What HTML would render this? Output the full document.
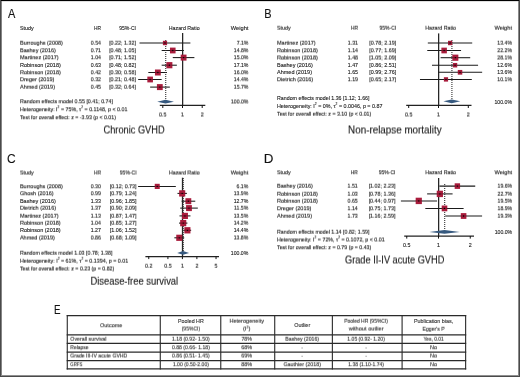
<!DOCTYPE html>
<html><head><meta charset="utf-8"><style>
html,body{margin:0;padding:0;background:#fff;}
body{width:520px;height:377px;overflow:hidden;position:relative;}
svg{position:absolute;left:0;top:0;}
svg text{font-family:"Liberation Sans",sans-serif;white-space:pre;}
#t{filter:grayscale(1) blur(0.25px);}
#g{filter:blur(0.25px);}
</style></head><body>
<svg id="g" width="520" height="377" viewBox="0 0 520 377">
<rect x="0" y="0" width="520" height="377" fill="#fff"/>
<line x1="182.62" y1="33.00" x2="182.62" y2="105.40" stroke="#262626" stroke-width="1.3" />
<line x1="139.50" y1="43.00" x2="190.38" y2="43.00" stroke="#1a1a1a" stroke-width="1.05" />
<line x1="161.66" y1="50.50" x2="183.89" y2="50.50" stroke="#1a1a1a" stroke-width="1.05" />
<line x1="172.77" y1="57.60" x2="194.39" y2="57.60" stroke="#1a1a1a" stroke-width="1.05" />
<line x1="161.66" y1="65.20" x2="176.86" y2="65.20" stroke="#1a1a1a" stroke-width="1.05" />
<line x1="148.31" y1="72.50" x2="167.03" y2="72.50" stroke="#1a1a1a" stroke-width="1.05" />
<line x1="138.18" y1="79.50" x2="161.66" y2="79.50" stroke="#1a1a1a" stroke-width="1.05" />
<line x1="150.14" y1="87.10" x2="169.83" y2="87.10" stroke="#1a1a1a" stroke-width="1.05" />
<line x1="165.72" y1="40.00" x2="165.72" y2="100.10" stroke="#333" stroke-width="1.1" stroke-dasharray="1 1"/>
<rect x="162.90" y="40.80" width="4.20" height="4.40" fill="#a91c3c"/>
<line x1="162.90" y1="43.00" x2="167.10" y2="43.00" stroke="#000" stroke-width="1.0" stroke-opacity="0.3"/>
<circle cx="165.00" cy="43.00" r="0.65" fill="#000"/>
<rect x="169.97" y="47.60" width="5.60" height="5.80" fill="#a91c3c"/>
<line x1="169.97" y1="50.50" x2="175.57" y2="50.50" stroke="#000" stroke-width="1.0" stroke-opacity="0.3"/>
<circle cx="172.77" cy="50.50" r="0.65" fill="#000"/>
<rect x="180.71" y="54.60" width="5.80" height="6.00" fill="#a91c3c"/>
<line x1="180.71" y1="57.60" x2="186.51" y2="57.60" stroke="#000" stroke-width="1.0" stroke-opacity="0.3"/>
<circle cx="183.61" cy="57.60" r="0.65" fill="#000"/>
<rect x="166.38" y="62.10" width="6.00" height="6.20" fill="#a91c3c"/>
<line x1="166.38" y1="65.20" x2="172.38" y2="65.20" stroke="#000" stroke-width="1.0" stroke-opacity="0.3"/>
<circle cx="169.38" cy="65.20" r="0.65" fill="#000"/>
<rect x="154.96" y="69.50" width="5.80" height="6.00" fill="#a91c3c"/>
<line x1="154.96" y1="72.50" x2="160.76" y2="72.50" stroke="#000" stroke-width="1.0" stroke-opacity="0.3"/>
<circle cx="157.86" cy="72.50" r="0.65" fill="#000"/>
<rect x="147.34" y="76.60" width="5.60" height="5.80" fill="#a91c3c"/>
<line x1="147.34" y1="79.50" x2="152.94" y2="79.50" stroke="#000" stroke-width="1.0" stroke-opacity="0.3"/>
<circle cx="150.14" cy="79.50" r="0.65" fill="#000"/>
<rect x="156.92" y="84.10" width="5.80" height="6.00" fill="#a91c3c"/>
<line x1="156.92" y1="87.10" x2="162.72" y2="87.10" stroke="#000" stroke-width="1.0" stroke-opacity="0.3"/>
<circle cx="159.82" cy="87.10" r="0.65" fill="#000"/>
<polygon points="157.18,101.70 165.52,99.80 173.95,101.70 165.52,103.60" fill="#36597f"/>
<line x1="159.80" y1="105.40" x2="205.30" y2="105.40" stroke="#222" stroke-width="1.25" />
<line x1="162.81" y1="105.40" x2="162.81" y2="108.00" stroke="#111" stroke-width="1.0" />
<line x1="182.50" y1="105.40" x2="182.50" y2="108.00" stroke="#111" stroke-width="1.0" />
<line x1="202.19" y1="105.40" x2="202.19" y2="108.00" stroke="#111" stroke-width="1.0" />
<line x1="438.62" y1="33.40" x2="438.62" y2="105.40" stroke="#262626" stroke-width="1.3" />
<line x1="427.82" y1="43.00" x2="472.21" y2="43.00" stroke="#1a1a1a" stroke-width="1.05" />
<line x1="427.26" y1="50.50" x2="461.06" y2="50.50" stroke="#1a1a1a" stroke-width="1.05" />
<line x1="440.60" y1="57.70" x2="470.20" y2="57.70" stroke="#1a1a1a" stroke-width="1.05" />
<line x1="432.01" y1="65.20" x2="478.07" y2="65.20" stroke="#1a1a1a" stroke-width="1.05" />
<line x1="438.07" y1="72.30" x2="482.15" y2="72.30" stroke="#1a1a1a" stroke-width="1.05" />
<line x1="419.98" y1="79.40" x2="471.81" y2="79.40" stroke="#1a1a1a" stroke-width="1.05" />
<line x1="451.92" y1="40.00" x2="451.92" y2="99.70" stroke="#333" stroke-width="1.1" stroke-dasharray="1 1"/>
<rect x="448.01" y="40.80" width="4.20" height="4.40" fill="#a91c3c"/>
<line x1="448.01" y1="43.00" x2="452.21" y2="43.00" stroke="#000" stroke-width="1.0" stroke-opacity="0.3"/>
<circle cx="450.11" cy="43.00" r="0.65" fill="#000"/>
<rect x="441.38" y="47.65" width="5.50" height="5.70" fill="#a91c3c"/>
<line x1="441.38" y1="50.50" x2="446.88" y2="50.50" stroke="#000" stroke-width="1.0" stroke-opacity="0.3"/>
<circle cx="444.13" cy="50.50" r="0.65" fill="#000"/>
<rect x="452.36" y="54.60" width="6.00" height="6.20" fill="#a91c3c"/>
<line x1="452.36" y1="57.70" x2="458.36" y2="57.70" stroke="#000" stroke-width="1.0" stroke-opacity="0.3"/>
<circle cx="455.36" cy="57.70" r="0.65" fill="#000"/>
<rect x="452.92" y="62.95" width="4.30" height="4.50" fill="#a91c3c"/>
<line x1="452.92" y1="65.20" x2="457.22" y2="65.20" stroke="#000" stroke-width="1.0" stroke-opacity="0.3"/>
<circle cx="455.07" cy="65.20" r="0.65" fill="#000"/>
<rect x="457.78" y="69.95" width="4.50" height="4.70" fill="#a91c3c"/>
<line x1="457.78" y1="72.30" x2="462.28" y2="72.30" stroke="#000" stroke-width="1.0" stroke-opacity="0.3"/>
<circle cx="460.03" cy="72.30" r="0.65" fill="#000"/>
<rect x="443.88" y="77.20" width="4.20" height="4.40" fill="#a91c3c"/>
<line x1="443.88" y1="79.40" x2="448.08" y2="79.40" stroke="#000" stroke-width="1.0" stroke-opacity="0.3"/>
<circle cx="445.98" cy="79.40" r="0.65" fill="#000"/>
<polygon points="443.37,101.30 451.72,99.40 460.29,101.30 451.72,103.20" fill="#36597f"/>
<line x1="406.20" y1="105.40" x2="471.50" y2="105.40" stroke="#222" stroke-width="1.25" />
<line x1="408.69" y1="105.40" x2="408.69" y2="108.00" stroke="#111" stroke-width="1.0" />
<line x1="438.50" y1="105.40" x2="438.50" y2="108.00" stroke="#111" stroke-width="1.0" />
<line x1="468.31" y1="105.40" x2="468.31" y2="108.00" stroke="#111" stroke-width="1.0" />
<line x1="182.52" y1="177.70" x2="182.52" y2="256.50" stroke="#262626" stroke-width="1.3" />
<line x1="138.09" y1="186.40" x2="175.82" y2="186.40" stroke="#1a1a1a" stroke-width="1.05" />
<line x1="177.47" y1="193.40" x2="186.90" y2="193.40" stroke="#1a1a1a" stroke-width="1.05" />
<line x1="181.55" y1="201.20" x2="195.26" y2="201.20" stroke="#1a1a1a" stroke-width="1.05" />
<line x1="180.20" y1="208.10" x2="197.81" y2="208.10" stroke="#1a1a1a" stroke-width="1.05" />
<line x1="179.49" y1="215.90" x2="190.45" y2="215.90" stroke="#1a1a1a" stroke-width="1.05" />
<line x1="179.00" y1="223.10" x2="187.40" y2="223.10" stroke="#1a1a1a" stroke-width="1.05" />
<line x1="183.62" y1="230.30" x2="191.15" y2="230.30" stroke="#1a1a1a" stroke-width="1.05" />
<line x1="174.34" y1="237.80" x2="184.20" y2="237.80" stroke="#1a1a1a" stroke-width="1.05" />
<line x1="183.22" y1="178.00" x2="183.22" y2="251.30" stroke="#333" stroke-width="1.1" stroke-dasharray="1 1"/>
<rect x="154.74" y="183.80" width="5.00" height="5.20" fill="#a91c3c"/>
<line x1="154.74" y1="186.40" x2="159.74" y2="186.40" stroke="#000" stroke-width="1.0" stroke-opacity="0.3"/>
<circle cx="157.24" cy="186.40" r="0.65" fill="#000"/>
<rect x="179.14" y="190.25" width="6.10" height="6.30" fill="#a91c3c"/>
<line x1="179.14" y1="193.40" x2="185.24" y2="193.40" stroke="#000" stroke-width="1.0" stroke-opacity="0.3"/>
<circle cx="182.19" cy="193.40" r="0.65" fill="#000"/>
<rect x="185.46" y="198.20" width="5.80" height="6.00" fill="#a91c3c"/>
<line x1="185.46" y1="201.20" x2="191.26" y2="201.20" stroke="#000" stroke-width="1.0" stroke-opacity="0.3"/>
<circle cx="188.36" cy="201.20" r="0.65" fill="#000"/>
<rect x="186.08" y="205.10" width="5.80" height="6.00" fill="#a91c3c"/>
<line x1="186.08" y1="208.10" x2="191.88" y2="208.10" stroke="#000" stroke-width="1.0" stroke-opacity="0.3"/>
<circle cx="188.98" cy="208.10" r="0.65" fill="#000"/>
<rect x="181.95" y="212.80" width="6.00" height="6.20" fill="#a91c3c"/>
<line x1="181.95" y1="215.90" x2="187.95" y2="215.90" stroke="#000" stroke-width="1.0" stroke-opacity="0.3"/>
<circle cx="184.95" cy="215.90" r="0.65" fill="#000"/>
<rect x="180.17" y="219.95" width="6.10" height="6.30" fill="#a91c3c"/>
<line x1="180.17" y1="223.10" x2="186.27" y2="223.10" stroke="#000" stroke-width="1.0" stroke-opacity="0.3"/>
<circle cx="183.22" cy="223.10" r="0.65" fill="#000"/>
<rect x="184.35" y="227.15" width="6.10" height="6.30" fill="#a91c3c"/>
<line x1="184.35" y1="230.30" x2="190.45" y2="230.30" stroke="#000" stroke-width="1.0" stroke-opacity="0.3"/>
<circle cx="187.40" cy="230.30" r="0.65" fill="#000"/>
<rect x="176.25" y="234.70" width="6.00" height="6.20" fill="#a91c3c"/>
<line x1="176.25" y1="237.80" x2="182.25" y2="237.80" stroke="#000" stroke-width="1.0" stroke-opacity="0.3"/>
<circle cx="179.25" cy="237.80" r="0.65" fill="#000"/>
<polygon points="177.21,252.90 183.02,251.00 189.13,252.90 183.02,254.80" fill="#36597f"/>
<line x1="145.40" y1="256.50" x2="219.00" y2="256.50" stroke="#222" stroke-width="1.25" />
<line x1="148.76" y1="256.50" x2="148.76" y2="259.10" stroke="#111" stroke-width="1.0" />
<line x1="167.91" y1="256.50" x2="167.91" y2="259.10" stroke="#111" stroke-width="1.0" />
<line x1="182.40" y1="256.50" x2="182.40" y2="259.10" stroke="#111" stroke-width="1.0" />
<line x1="196.89" y1="256.50" x2="196.89" y2="259.10" stroke="#111" stroke-width="1.0" />
<line x1="216.04" y1="256.50" x2="216.04" y2="259.10" stroke="#111" stroke-width="1.0" />
<line x1="438.62" y1="178.00" x2="438.62" y2="236.00" stroke="#262626" stroke-width="1.3" />
<line x1="439.41" y1="186.10" x2="475.23" y2="186.10" stroke="#1a1a1a" stroke-width="1.05" />
<line x1="427.12" y1="193.90" x2="452.58" y2="193.90" stroke="#1a1a1a" stroke-width="1.05" />
<line x1="400.90" y1="200.90" x2="437.10" y2="200.90" stroke="#1a1a1a" stroke-width="1.05" />
<line x1="425.32" y1="208.40" x2="463.60" y2="208.40" stroke="#1a1a1a" stroke-width="1.05" />
<line x1="445.30" y1="216.00" x2="482.09" y2="216.00" stroke="#1a1a1a" stroke-width="1.05" />
<line x1="444.70" y1="184.00" x2="444.70" y2="230.30" stroke="#333" stroke-width="1.1" stroke-dasharray="1 1"/>
<rect x="454.67" y="183.30" width="5.40" height="5.60" fill="#a91c3c"/>
<line x1="454.67" y1="186.10" x2="460.07" y2="186.10" stroke="#000" stroke-width="1.0" stroke-opacity="0.3"/>
<circle cx="457.37" cy="186.10" r="0.65" fill="#000"/>
<rect x="436.75" y="190.70" width="6.20" height="6.40" fill="#a91c3c"/>
<line x1="436.75" y1="193.90" x2="442.95" y2="193.90" stroke="#000" stroke-width="1.0" stroke-opacity="0.3"/>
<circle cx="439.85" cy="193.90" r="0.65" fill="#000"/>
<rect x="415.67" y="197.70" width="6.20" height="6.40" fill="#a91c3c"/>
<line x1="415.67" y1="200.90" x2="421.87" y2="200.90" stroke="#000" stroke-width="1.0" stroke-opacity="0.3"/>
<circle cx="418.77" cy="200.90" r="0.65" fill="#000"/>
<rect x="441.70" y="205.50" width="5.60" height="5.80" fill="#a91c3c"/>
<line x1="441.70" y1="208.40" x2="447.30" y2="208.40" stroke="#000" stroke-width="1.0" stroke-opacity="0.3"/>
<circle cx="444.50" cy="208.40" r="0.65" fill="#000"/>
<rect x="460.80" y="213.10" width="5.60" height="5.80" fill="#a91c3c"/>
<line x1="460.80" y1="216.00" x2="466.40" y2="216.00" stroke="#000" stroke-width="1.0" stroke-opacity="0.3"/>
<circle cx="463.60" cy="216.00" r="0.65" fill="#000"/>
<polygon points="429.41,231.90 444.50,230.00 459.74,231.90 444.50,233.80" fill="#36597f"/>
<line x1="404.20" y1="236.00" x2="474.00" y2="236.00" stroke="#222" stroke-width="1.25" />
<line x1="406.75" y1="236.00" x2="406.75" y2="238.60" stroke="#111" stroke-width="1.0" />
<line x1="438.50" y1="236.00" x2="438.50" y2="238.60" stroke="#111" stroke-width="1.0" />
<line x1="470.25" y1="236.00" x2="470.25" y2="238.60" stroke="#111" stroke-width="1.0" />
<line x1="67.30" y1="315.00" x2="67.30" y2="369.40" stroke="#3a3a3a" stroke-width="1.2" />
<line x1="160.30" y1="315.00" x2="160.30" y2="369.40" stroke="#3a3a3a" stroke-width="1.2" />
<line x1="220.75" y1="315.00" x2="220.75" y2="369.40" stroke="#3a3a3a" stroke-width="1.2" />
<line x1="274.70" y1="315.00" x2="274.70" y2="369.40" stroke="#3a3a3a" stroke-width="1.2" />
<line x1="332.40" y1="315.00" x2="332.40" y2="369.40" stroke="#3a3a3a" stroke-width="1.2" />
<line x1="402.10" y1="315.00" x2="402.10" y2="369.40" stroke="#3a3a3a" stroke-width="1.2" />
<line x1="465.60" y1="315.00" x2="465.60" y2="369.40" stroke="#3a3a3a" stroke-width="1.2" />
<line x1="66.70" y1="315.60" x2="466.20" y2="315.60" stroke="#2a2a2a" stroke-width="1.2" />
<line x1="66.70" y1="334.80" x2="466.20" y2="334.80" stroke="#2a2a2a" stroke-width="1.2" />
<line x1="66.70" y1="343.40" x2="466.20" y2="343.40" stroke="#2a2a2a" stroke-width="1.2" />
<line x1="66.70" y1="352.10" x2="466.20" y2="352.10" stroke="#2a2a2a" stroke-width="1.2" />
<line x1="66.70" y1="360.60" x2="466.20" y2="360.60" stroke="#2a2a2a" stroke-width="1.2" />
<line x1="66.70" y1="368.80" x2="466.20" y2="368.80" stroke="#2a2a2a" stroke-width="1.2" />
</svg>
<svg id="t" width="520" height="377" viewBox="0 0 520 377" stroke-width="0.12">
<defs><filter id="s1" x="0" y="0" width="520" height="377" filterUnits="userSpaceOnUse"><feConvolveMatrix order="1 2" kernelMatrix="0.75 0.25" divisor="1" targetX="0" targetY="1" preserveAlpha="false" edgeMode="none"/></filter><filter id="s2" x="0" y="0" width="520" height="377" filterUnits="userSpaceOnUse"><feConvolveMatrix order="1 2" kernelMatrix="0.5 0.5" divisor="1" targetX="0" targetY="1" preserveAlpha="false" edgeMode="none"/></filter><filter id="s3" x="0" y="0" width="520" height="377" filterUnits="userSpaceOnUse"><feConvolveMatrix order="1 2" kernelMatrix="0.25 0.75" divisor="1" targetX="0" targetY="1" preserveAlpha="false" edgeMode="none"/></filter></defs><text x="7.95" y="18" font-size="12.5" textLength="7.33" lengthAdjust="spacingAndGlyphs" fill="#111" stroke="#111">A</text>
<text x="20.00" y="30" font-size="6.0" textLength="13.70" lengthAdjust="spacingAndGlyphs" fill="#1a1a1a" stroke="#1a1a1a">Study</text>
<text x="94.00" y="30" font-size="6.0" textLength="7.00" lengthAdjust="spacingAndGlyphs" fill="#1a1a1a" stroke="#1a1a1a">HR</text>
<text x="119.20" y="30" font-size="6.0" textLength="16.80" lengthAdjust="spacingAndGlyphs" fill="#1a1a1a" stroke="#1a1a1a">95%-CI</text>
<text x="168.80" y="30" font-size="6.0" textLength="30.80" lengthAdjust="spacingAndGlyphs" fill="#1a1a1a" stroke="#1a1a1a">Hazard Ratio</text>
<text x="230.80" y="30" font-size="6.0" textLength="17.60" lengthAdjust="spacingAndGlyphs" fill="#1a1a1a" stroke="#1a1a1a">Weight</text>
<text x="20.00" y="67" font-size="6.0" textLength="40.81" lengthAdjust="spacingAndGlyphs" fill="#1a1a1a" stroke="#1a1a1a">Robinson (2018)</text>
<text x="90.78" y="67" font-size="6.0" textLength="10.22" lengthAdjust="spacingAndGlyphs" fill="#1a1a1a" stroke="#1a1a1a">0.63</text>
<text x="109.13" y="67" font-size="6.0" textLength="26.87" lengthAdjust="spacingAndGlyphs" fill="#1a1a1a" stroke="#1a1a1a">[0.48; 0.82]</text>
<text x="233.77" y="67" font-size="6.0" textLength="14.63" lengthAdjust="spacingAndGlyphs" fill="#1a1a1a" stroke="#1a1a1a">17.1%</text>
<text x="264.32" y="18" font-size="12.5" textLength="7.30" lengthAdjust="spacingAndGlyphs" fill="#111" stroke="#111">B</text>
<text x="277.00" y="67" font-size="6.0" textLength="35.90" lengthAdjust="spacingAndGlyphs" fill="#1a1a1a" stroke="#1a1a1a">Bashey (2016)</text>
<text x="347.78" y="67" font-size="6.0" textLength="10.22" lengthAdjust="spacingAndGlyphs" fill="#1a1a1a" stroke="#1a1a1a">1.47</text>
<text x="369.33" y="67" font-size="6.0" textLength="26.87" lengthAdjust="spacingAndGlyphs" fill="#1a1a1a" stroke="#1a1a1a">[0.86; 2.51]</text>
<text x="497.37" y="67" font-size="6.0" textLength="14.63" lengthAdjust="spacingAndGlyphs" fill="#1a1a1a" stroke="#1a1a1a">12.6%</text>
<text x="277.00" y="74" font-size="6.0" textLength="34.98" lengthAdjust="spacingAndGlyphs" fill="#1a1a1a" stroke="#1a1a1a">Ahmed (2019)</text>
<text x="347.78" y="74" font-size="6.0" textLength="10.22" lengthAdjust="spacingAndGlyphs" fill="#1a1a1a" stroke="#1a1a1a">1.65</text>
<text x="369.33" y="74" font-size="6.0" textLength="26.87" lengthAdjust="spacingAndGlyphs" fill="#1a1a1a" stroke="#1a1a1a">[0.99; 2.76]</text>
<text x="497.37" y="74" font-size="6.0" textLength="14.63" lengthAdjust="spacingAndGlyphs" fill="#1a1a1a" stroke="#1a1a1a">13.6%</text>
<text x="277.00" y="100" font-size="6.0" textLength="92.50" lengthAdjust="spacingAndGlyphs" fill="#1a1a1a" stroke="#1a1a1a">Random effects model 1.36 [1.12; 1.66]</text>
<text x="277.00" y="108" font-size="6.0" textLength="105.40" lengthAdjust="spacingAndGlyphs" fill="#1a1a1a" stroke="#1a1a1a">Heterogeneity: I<tspan dy="-2.52" font-size="3.72">2</tspan><tspan dy="2.52"> = 0%, τ</tspan><tspan dy="-2.52" font-size="3.72">2</tspan><tspan dy="2.52"> = 0.0046, p = 0.87</tspan></text>
<text x="494.50" y="104" font-size="6.0" textLength="17.50" lengthAdjust="spacingAndGlyphs" fill="#1a1a1a" stroke="#1a1a1a">100.0%</text>
<text x="7.00" y="163" font-size="12.5" textLength="8.66" lengthAdjust="spacingAndGlyphs" fill="#111" stroke="#111">C</text>
<text x="19.90" y="203" font-size="6.0" textLength="35.90" lengthAdjust="spacingAndGlyphs" fill="#1a1a1a" stroke="#1a1a1a">Bashey (2016)</text>
<text x="90.68" y="203" font-size="6.0" textLength="10.22" lengthAdjust="spacingAndGlyphs" fill="#1a1a1a" stroke="#1a1a1a">1.33</text>
<text x="109.73" y="203" font-size="6.0" textLength="26.87" lengthAdjust="spacingAndGlyphs" fill="#1a1a1a" stroke="#1a1a1a">[0.96; 1.85]</text>
<text x="233.67" y="203" font-size="6.0" textLength="14.63" lengthAdjust="spacingAndGlyphs" fill="#1a1a1a" stroke="#1a1a1a">12.7%</text>
<text x="19.90" y="232" font-size="6.0" textLength="40.81" lengthAdjust="spacingAndGlyphs" fill="#1a1a1a" stroke="#1a1a1a">Robinson (2018)</text>
<text x="90.68" y="232" font-size="6.0" textLength="10.22" lengthAdjust="spacingAndGlyphs" fill="#1a1a1a" stroke="#1a1a1a">1.27</text>
<text x="109.73" y="232" font-size="6.0" textLength="26.87" lengthAdjust="spacingAndGlyphs" fill="#1a1a1a" stroke="#1a1a1a">[1.06; 1.52]</text>
<text x="233.67" y="232" font-size="6.0" textLength="14.63" lengthAdjust="spacingAndGlyphs" fill="#1a1a1a" stroke="#1a1a1a">14.4%</text>
<text x="230.80" y="255" font-size="6.0" textLength="17.50" lengthAdjust="spacingAndGlyphs" fill="#1a1a1a" stroke="#1a1a1a">100.0%</text>
<text x="263.73" y="163" font-size="12.5" textLength="9.67" lengthAdjust="spacingAndGlyphs" fill="#111" stroke="#111">D</text>
<text x="403.04" y="247" font-size="6.0" textLength="7.42" lengthAdjust="spacingAndGlyphs" fill="#1a1a1a" stroke="#1a1a1a">0.5</text>
<text x="437.02" y="247" font-size="6.0" textLength="2.97" lengthAdjust="spacingAndGlyphs" fill="#1a1a1a" stroke="#1a1a1a">1</text>
<text x="468.76" y="247" font-size="6.0" textLength="2.97" lengthAdjust="spacingAndGlyphs" fill="#1a1a1a" stroke="#1a1a1a">2</text>
<text x="494.70" y="234" font-size="6.0" textLength="17.50" lengthAdjust="spacingAndGlyphs" fill="#1a1a1a" stroke="#1a1a1a">100.0%</text>
<text x="53.91" y="314" font-size="12.5" textLength="6.55" lengthAdjust="spacingAndGlyphs" fill="#111" stroke="#111">E</text>
<text x="178.05" y="323" font-size="5.2" textLength="25.70" lengthAdjust="spacingAndGlyphs" fill="#333" stroke="#333">Pooled HR</text>
<text x="294.20" y="327" font-size="5.2" textLength="16.00" lengthAdjust="spacingAndGlyphs" fill="#333" stroke="#333">Outlier</text>
<text x="414.00" y="323" font-size="5.2" textLength="39.20" lengthAdjust="spacingAndGlyphs" fill="#333" stroke="#333">Publication bias,</text><g filter="url(#s1)"><text x="20.00" y="52" font-size="6.0" textLength="35.90" lengthAdjust="spacingAndGlyphs" fill="#1a1a1a" stroke="#1a1a1a">Bashey (2016)</text>
<text x="90.78" y="52" font-size="6.0" textLength="10.22" lengthAdjust="spacingAndGlyphs" fill="#1a1a1a" stroke="#1a1a1a">0.71</text>
<text x="109.13" y="52" font-size="6.0" textLength="26.87" lengthAdjust="spacingAndGlyphs" fill="#1a1a1a" stroke="#1a1a1a">[0.48; 1.05]</text>
<text x="233.77" y="52" font-size="6.0" textLength="14.63" lengthAdjust="spacingAndGlyphs" fill="#1a1a1a" stroke="#1a1a1a">14.8%</text>
<text x="20.00" y="59" font-size="6.0" textLength="38.66" lengthAdjust="spacingAndGlyphs" fill="#1a1a1a" stroke="#1a1a1a">Martinez (2017)</text>
<text x="90.78" y="59" font-size="6.0" textLength="10.22" lengthAdjust="spacingAndGlyphs" fill="#1a1a1a" stroke="#1a1a1a">1.04</text>
<text x="109.13" y="59" font-size="6.0" textLength="26.87" lengthAdjust="spacingAndGlyphs" fill="#1a1a1a" stroke="#1a1a1a">[0.71; 1.52]</text>
<text x="233.77" y="59" font-size="6.0" textLength="14.63" lengthAdjust="spacingAndGlyphs" fill="#1a1a1a" stroke="#1a1a1a">15.0%</text>
<text x="20.00" y="74" font-size="6.0" textLength="40.81" lengthAdjust="spacingAndGlyphs" fill="#1a1a1a" stroke="#1a1a1a">Robinson (2018)</text>
<text x="90.78" y="74" font-size="6.0" textLength="10.22" lengthAdjust="spacingAndGlyphs" fill="#1a1a1a" stroke="#1a1a1a">0.42</text>
<text x="109.13" y="74" font-size="6.0" textLength="26.87" lengthAdjust="spacingAndGlyphs" fill="#1a1a1a" stroke="#1a1a1a">[0.30; 0.58]</text>
<text x="233.77" y="74" font-size="6.0" textLength="14.63" lengthAdjust="spacingAndGlyphs" fill="#1a1a1a" stroke="#1a1a1a">16.0%</text>
<text x="20.00" y="81" font-size="6.0" textLength="34.36" lengthAdjust="spacingAndGlyphs" fill="#1a1a1a" stroke="#1a1a1a">Dreger (2019)</text>
<text x="90.78" y="81" font-size="6.0" textLength="10.22" lengthAdjust="spacingAndGlyphs" fill="#1a1a1a" stroke="#1a1a1a">0.32</text>
<text x="109.13" y="81" font-size="6.0" textLength="26.87" lengthAdjust="spacingAndGlyphs" fill="#1a1a1a" stroke="#1a1a1a">[0.21; 0.48]</text>
<text x="233.77" y="81" font-size="6.0" textLength="14.63" lengthAdjust="spacingAndGlyphs" fill="#1a1a1a" stroke="#1a1a1a">14.4%</text>
<text x="20.00" y="103" font-size="6.0" textLength="93.00" lengthAdjust="spacingAndGlyphs" fill="#1a1a1a" stroke="#1a1a1a">Random effects model 0.55 [0.41; 0.74]</text>
<text x="20.00" y="111" font-size="6.0" textLength="107.40" lengthAdjust="spacingAndGlyphs" fill="#1a1a1a" stroke="#1a1a1a">Heterogeneity: I<tspan dy="-2.52" font-size="3.72">2</tspan><tspan dy="2.52"> = 75%, τ</tspan><tspan dy="-2.52" font-size="3.72">2</tspan><tspan dy="2.52"> = 0.1148, p &lt; 0.01</tspan></text>
<text x="20.00" y="119" font-size="6.0" textLength="95.90" lengthAdjust="spacingAndGlyphs" fill="#1a1a1a" stroke="#1a1a1a">Test for overall effect: z = -3.93 (p &lt; 0.01)</text>
<text x="277.00" y="52" font-size="6.0" textLength="40.81" lengthAdjust="spacingAndGlyphs" fill="#1a1a1a" stroke="#1a1a1a">Robinson (2018)</text>
<text x="347.78" y="52" font-size="6.0" textLength="10.22" lengthAdjust="spacingAndGlyphs" fill="#1a1a1a" stroke="#1a1a1a">1.14</text>
<text x="369.33" y="52" font-size="6.0" textLength="26.87" lengthAdjust="spacingAndGlyphs" fill="#1a1a1a" stroke="#1a1a1a">[0.77; 1.69]</text>
<text x="497.37" y="52" font-size="6.0" textLength="14.63" lengthAdjust="spacingAndGlyphs" fill="#1a1a1a" stroke="#1a1a1a">22.2%</text>
<text x="277.00" y="81" font-size="6.0" textLength="36.20" lengthAdjust="spacingAndGlyphs" fill="#1a1a1a" stroke="#1a1a1a">Dietrich (2016)</text>
<text x="347.78" y="81" font-size="6.0" textLength="10.22" lengthAdjust="spacingAndGlyphs" fill="#1a1a1a" stroke="#1a1a1a">1.19</text>
<text x="369.33" y="81" font-size="6.0" textLength="26.87" lengthAdjust="spacingAndGlyphs" fill="#1a1a1a" stroke="#1a1a1a">[0.65; 2.17]</text>
<text x="497.37" y="81" font-size="6.0" textLength="14.63" lengthAdjust="spacingAndGlyphs" fill="#1a1a1a" stroke="#1a1a1a">10.1%</text>
<text x="19.90" y="188" font-size="6.0" textLength="42.96" lengthAdjust="spacingAndGlyphs" fill="#1a1a1a" stroke="#1a1a1a">Burroughs (2008)</text>
<text x="90.68" y="188" font-size="6.0" textLength="10.22" lengthAdjust="spacingAndGlyphs" fill="#1a1a1a" stroke="#1a1a1a">0.30</text>
<text x="109.73" y="188" font-size="6.0" textLength="26.87" lengthAdjust="spacingAndGlyphs" fill="#1a1a1a" stroke="#1a1a1a">[0.12; 0.73]</text>
<text x="236.54" y="188" font-size="6.0" textLength="11.76" lengthAdjust="spacingAndGlyphs" fill="#1a1a1a" stroke="#1a1a1a">6.1%</text>
<text x="19.90" y="195" font-size="6.0" textLength="33.75" lengthAdjust="spacingAndGlyphs" fill="#1a1a1a" stroke="#1a1a1a">Ghosh (2016)</text>
<text x="90.68" y="195" font-size="6.0" textLength="10.22" lengthAdjust="spacingAndGlyphs" fill="#1a1a1a" stroke="#1a1a1a">0.99</text>
<text x="109.73" y="195" font-size="6.0" textLength="26.87" lengthAdjust="spacingAndGlyphs" fill="#1a1a1a" stroke="#1a1a1a">[0.79; 1.24]</text>
<text x="233.67" y="195" font-size="6.0" textLength="14.63" lengthAdjust="spacingAndGlyphs" fill="#1a1a1a" stroke="#1a1a1a">13.9%</text>
<text x="277.00" y="174" font-size="6.0" textLength="13.70" lengthAdjust="spacingAndGlyphs" fill="#1a1a1a" stroke="#1a1a1a">Study</text>
<text x="350.80" y="174" font-size="6.0" textLength="7.00" lengthAdjust="spacingAndGlyphs" fill="#1a1a1a" stroke="#1a1a1a">HR</text>
<text x="378.70" y="174" font-size="6.0" textLength="16.80" lengthAdjust="spacingAndGlyphs" fill="#1a1a1a" stroke="#1a1a1a">95%-CI</text>
<text x="425.20" y="174" font-size="6.0" textLength="30.80" lengthAdjust="spacingAndGlyphs" fill="#1a1a1a" stroke="#1a1a1a">Hazard Ratio</text>
<text x="494.60" y="174" font-size="6.0" textLength="17.60" lengthAdjust="spacingAndGlyphs" fill="#1a1a1a" stroke="#1a1a1a">Weight</text>
<text x="277.00" y="210" font-size="6.0" textLength="34.36" lengthAdjust="spacingAndGlyphs" fill="#1a1a1a" stroke="#1a1a1a">Dreger (2019)</text>
<text x="347.58" y="210" font-size="6.0" textLength="10.22" lengthAdjust="spacingAndGlyphs" fill="#1a1a1a" stroke="#1a1a1a">1.14</text>
<text x="368.63" y="210" font-size="6.0" textLength="26.87" lengthAdjust="spacingAndGlyphs" fill="#1a1a1a" stroke="#1a1a1a">[0.75; 1.73]</text>
<text x="497.57" y="210" font-size="6.0" textLength="14.63" lengthAdjust="spacingAndGlyphs" fill="#1a1a1a" stroke="#1a1a1a">18.9%</text>
<text x="277.00" y="249" font-size="6.0" textLength="94.30" lengthAdjust="spacingAndGlyphs" fill="#1a1a1a" stroke="#1a1a1a">Test for overall effect: z = 0.79 (p = 0.43)</text>
<text x="100.00" y="327" font-size="5.2" textLength="22.40" lengthAdjust="spacingAndGlyphs" fill="#333" stroke="#333">Outcome</text>
<text x="70.30" y="349" font-size="5.2" textLength="18.30" lengthAdjust="spacingAndGlyphs" fill="#333" stroke="#333">Relapse</text>
<text x="171.95" y="349" font-size="5.2" textLength="37.90" lengthAdjust="spacingAndGlyphs" fill="#333" stroke="#333">0.88 (0.66- 1.18)</text>
<text x="241.18" y="349" font-size="5.2" textLength="11.03" lengthAdjust="spacingAndGlyphs" fill="#333" stroke="#333">68%</text>
<text x="430.10" y="349" font-size="5.2" textLength="7.00" lengthAdjust="spacingAndGlyphs" fill="#333" stroke="#333">No</text>
<text x="70.30" y="366" font-size="5.2" textLength="12.00" lengthAdjust="spacingAndGlyphs" fill="#333" stroke="#333">GRFS</text>
<text x="172.90" y="366" font-size="5.2" textLength="36.00" lengthAdjust="spacingAndGlyphs" fill="#333" stroke="#333">1.00 (0.50-2.00)</text>
<text x="241.18" y="366" font-size="5.2" textLength="11.03" lengthAdjust="spacingAndGlyphs" fill="#333" stroke="#333">88%</text>
<text x="283.45" y="366" font-size="5.2" textLength="37.50" lengthAdjust="spacingAndGlyphs" fill="#333" stroke="#333">Gauthier (2018)</text>
<text x="348.25" y="366" font-size="5.2" textLength="35.70" lengthAdjust="spacingAndGlyphs" fill="#333" stroke="#333">1.38 (1.10-1.74)</text>
<text x="430.10" y="366" font-size="5.2" textLength="7.00" lengthAdjust="spacingAndGlyphs" fill="#333" stroke="#333">No</text></g><g filter="url(#s2)"><text x="159.10" y="116" font-size="6.0" textLength="7.42" lengthAdjust="spacingAndGlyphs" fill="#1a1a1a" stroke="#1a1a1a">0.5</text>
<text x="181.02" y="116" font-size="6.0" textLength="2.97" lengthAdjust="spacingAndGlyphs" fill="#1a1a1a" stroke="#1a1a1a">1</text>
<text x="200.70" y="116" font-size="6.0" textLength="2.97" lengthAdjust="spacingAndGlyphs" fill="#1a1a1a" stroke="#1a1a1a">2</text>
<text x="230.90" y="103" font-size="6.0" textLength="17.50" lengthAdjust="spacingAndGlyphs" fill="#1a1a1a" stroke="#1a1a1a">100.0%</text>
<text x="103.50" y="133" font-size="10.0" textLength="61.10" lengthAdjust="spacingAndGlyphs" fill="#1a1a1a" stroke="#1a1a1a" stroke-width="0.12">Chronic GVHD</text>
<text x="277.00" y="59" font-size="6.0" textLength="40.81" lengthAdjust="spacingAndGlyphs" fill="#1a1a1a" stroke="#1a1a1a">Robinson (2018)</text>
<text x="347.78" y="59" font-size="6.0" textLength="10.22" lengthAdjust="spacingAndGlyphs" fill="#1a1a1a" stroke="#1a1a1a">1.48</text>
<text x="369.33" y="59" font-size="6.0" textLength="26.87" lengthAdjust="spacingAndGlyphs" fill="#1a1a1a" stroke="#1a1a1a">[1.05; 2.09]</text>
<text x="497.37" y="59" font-size="6.0" textLength="14.63" lengthAdjust="spacingAndGlyphs" fill="#1a1a1a" stroke="#1a1a1a">28.1%</text>
<text x="404.98" y="116" font-size="6.0" textLength="7.42" lengthAdjust="spacingAndGlyphs" fill="#1a1a1a" stroke="#1a1a1a">0.5</text>
<text x="437.02" y="116" font-size="6.0" textLength="2.97" lengthAdjust="spacingAndGlyphs" fill="#1a1a1a" stroke="#1a1a1a">1</text>
<text x="466.82" y="116" font-size="6.0" textLength="2.97" lengthAdjust="spacingAndGlyphs" fill="#1a1a1a" stroke="#1a1a1a">2</text>
<text x="348.10" y="133" font-size="10.0" textLength="93.50" lengthAdjust="spacingAndGlyphs" fill="#1a1a1a" stroke="#1a1a1a" stroke-width="0.12">Non-relapse mortality</text>
<text x="19.90" y="174" font-size="6.0" textLength="13.70" lengthAdjust="spacingAndGlyphs" fill="#1a1a1a" stroke="#1a1a1a">Study</text>
<text x="93.90" y="174" font-size="6.0" textLength="7.00" lengthAdjust="spacingAndGlyphs" fill="#1a1a1a" stroke="#1a1a1a">HR</text>
<text x="119.80" y="174" font-size="6.0" textLength="16.80" lengthAdjust="spacingAndGlyphs" fill="#1a1a1a" stroke="#1a1a1a">95%-CI</text>
<text x="168.90" y="174" font-size="6.0" textLength="30.80" lengthAdjust="spacingAndGlyphs" fill="#1a1a1a" stroke="#1a1a1a">Hazard Ratio</text>
<text x="230.70" y="174" font-size="6.0" textLength="17.60" lengthAdjust="spacingAndGlyphs" fill="#1a1a1a" stroke="#1a1a1a">Weight</text>
<text x="19.90" y="239" font-size="6.0" textLength="34.98" lengthAdjust="spacingAndGlyphs" fill="#1a1a1a" stroke="#1a1a1a">Ahmed (2019)</text>
<text x="90.68" y="239" font-size="6.0" textLength="10.22" lengthAdjust="spacingAndGlyphs" fill="#1a1a1a" stroke="#1a1a1a">0.86</text>
<text x="109.73" y="239" font-size="6.0" textLength="26.87" lengthAdjust="spacingAndGlyphs" fill="#1a1a1a" stroke="#1a1a1a">[0.68; 1.09]</text>
<text x="233.67" y="239" font-size="6.0" textLength="14.63" lengthAdjust="spacingAndGlyphs" fill="#1a1a1a" stroke="#1a1a1a">13.8%</text>
<text x="19.90" y="270" font-size="6.0" textLength="94.40" lengthAdjust="spacingAndGlyphs" fill="#1a1a1a" stroke="#1a1a1a">Test for overall effect: z = 0.23 (p = 0.82)</text>
<text x="277.00" y="241" font-size="6.0" textLength="107.70" lengthAdjust="spacingAndGlyphs" fill="#1a1a1a" stroke="#1a1a1a">Heterogeneity: I<tspan dy="-2.52" font-size="3.72">2</tspan><tspan dy="2.52"> = 72%, τ</tspan><tspan dy="-2.52" font-size="3.72">2</tspan><tspan dy="2.52"> = 0.1072, p &lt; 0.01</tspan></text>
<text x="345.00" y="263" font-size="10.0" textLength="99.30" lengthAdjust="spacingAndGlyphs" fill="#1a1a1a" stroke="#1a1a1a" stroke-width="0.12">Grade II-IV acute GVHD</text>
<text x="181.70" y="330" font-size="5.2" textLength="18.40" lengthAdjust="spacingAndGlyphs" fill="#333" stroke="#333">(95%CI)</text>
<text x="242.95" y="330" font-size="5.2" textLength="7.50" lengthAdjust="spacingAndGlyphs" fill="#333" stroke="#333">(I<tspan dy="-2.18" font-size="3.22">2</tspan><tspan dy="2.18">)</tspan></text>
<text x="348.65" y="330" font-size="5.2" textLength="34.90" lengthAdjust="spacingAndGlyphs" fill="#333" stroke="#333">without outlier</text>
<text x="301.60" y="348" font-size="3.6" textLength="1.20" lengthAdjust="spacingAndGlyphs" fill="#666" stroke="#666">-</text>
<text x="365.50" y="348" font-size="3.6" textLength="1.20" lengthAdjust="spacingAndGlyphs" fill="#666" stroke="#666">-</text>
<text x="70.30" y="357" font-size="5.2" textLength="57.00" lengthAdjust="spacingAndGlyphs" fill="#333" stroke="#333">Grade III-IV acute GVHD</text>
<text x="172.10" y="357" font-size="5.2" textLength="37.60" lengthAdjust="spacingAndGlyphs" fill="#333" stroke="#333">0.86 (0.51- 1.45)</text>
<text x="241.18" y="357" font-size="5.2" textLength="11.03" lengthAdjust="spacingAndGlyphs" fill="#333" stroke="#333">69%</text>
<text x="430.10" y="357" font-size="5.2" textLength="7.00" lengthAdjust="spacingAndGlyphs" fill="#333" stroke="#333">No</text></g><g filter="url(#s3)"><text x="20.00" y="44" font-size="6.0" textLength="42.96" lengthAdjust="spacingAndGlyphs" fill="#1a1a1a" stroke="#1a1a1a">Burroughs (2008)</text>
<text x="90.78" y="44" font-size="6.0" textLength="10.22" lengthAdjust="spacingAndGlyphs" fill="#1a1a1a" stroke="#1a1a1a">0.54</text>
<text x="109.13" y="44" font-size="6.0" textLength="26.87" lengthAdjust="spacingAndGlyphs" fill="#1a1a1a" stroke="#1a1a1a">[0.22; 1.32]</text>
<text x="236.64" y="44" font-size="6.0" textLength="11.76" lengthAdjust="spacingAndGlyphs" fill="#1a1a1a" stroke="#1a1a1a">7.1%</text>
<text x="20.00" y="88" font-size="6.0" textLength="34.98" lengthAdjust="spacingAndGlyphs" fill="#1a1a1a" stroke="#1a1a1a">Ahmed (2019)</text>
<text x="90.78" y="88" font-size="6.0" textLength="10.22" lengthAdjust="spacingAndGlyphs" fill="#1a1a1a" stroke="#1a1a1a">0.45</text>
<text x="109.13" y="88" font-size="6.0" textLength="26.87" lengthAdjust="spacingAndGlyphs" fill="#1a1a1a" stroke="#1a1a1a">[0.32; 0.64]</text>
<text x="233.77" y="88" font-size="6.0" textLength="14.63" lengthAdjust="spacingAndGlyphs" fill="#1a1a1a" stroke="#1a1a1a">15.7%</text>
<text x="277.00" y="29" font-size="6.0" textLength="13.70" lengthAdjust="spacingAndGlyphs" fill="#1a1a1a" stroke="#1a1a1a">Study</text>
<text x="351.00" y="29" font-size="6.0" textLength="7.00" lengthAdjust="spacingAndGlyphs" fill="#1a1a1a" stroke="#1a1a1a">HR</text>
<text x="379.40" y="29" font-size="6.0" textLength="16.80" lengthAdjust="spacingAndGlyphs" fill="#1a1a1a" stroke="#1a1a1a">95%-CI</text>
<text x="425.20" y="29" font-size="6.0" textLength="30.80" lengthAdjust="spacingAndGlyphs" fill="#1a1a1a" stroke="#1a1a1a">Hazard Ratio</text>
<text x="494.40" y="29" font-size="6.0" textLength="17.60" lengthAdjust="spacingAndGlyphs" fill="#1a1a1a" stroke="#1a1a1a">Weight</text>
<text x="277.00" y="44" font-size="6.0" textLength="38.66" lengthAdjust="spacingAndGlyphs" fill="#1a1a1a" stroke="#1a1a1a">Martinez (2017)</text>
<text x="347.78" y="44" font-size="6.0" textLength="10.22" lengthAdjust="spacingAndGlyphs" fill="#1a1a1a" stroke="#1a1a1a">1.31</text>
<text x="369.33" y="44" font-size="6.0" textLength="26.87" lengthAdjust="spacingAndGlyphs" fill="#1a1a1a" stroke="#1a1a1a">[0.78; 2.19]</text>
<text x="497.37" y="44" font-size="6.0" textLength="14.63" lengthAdjust="spacingAndGlyphs" fill="#1a1a1a" stroke="#1a1a1a">13.4%</text>
<text x="277.00" y="115" font-size="6.0" textLength="94.30" lengthAdjust="spacingAndGlyphs" fill="#1a1a1a" stroke="#1a1a1a">Test for overall effect: z = 3.10 (p &lt; 0.01)</text>
<text x="19.90" y="209" font-size="6.0" textLength="36.20" lengthAdjust="spacingAndGlyphs" fill="#1a1a1a" stroke="#1a1a1a">Dietrich (2016)</text>
<text x="90.68" y="209" font-size="6.0" textLength="10.22" lengthAdjust="spacingAndGlyphs" fill="#1a1a1a" stroke="#1a1a1a">1.37</text>
<text x="109.73" y="209" font-size="6.0" textLength="26.87" lengthAdjust="spacingAndGlyphs" fill="#1a1a1a" stroke="#1a1a1a">[0.90; 2.09]</text>
<text x="234.05" y="209" font-size="6.0" textLength="14.25" lengthAdjust="spacingAndGlyphs" fill="#1a1a1a" stroke="#1a1a1a">11.5%</text>
<text x="19.90" y="217" font-size="6.0" textLength="38.66" lengthAdjust="spacingAndGlyphs" fill="#1a1a1a" stroke="#1a1a1a">Martinez (2017)</text>
<text x="90.68" y="217" font-size="6.0" textLength="10.22" lengthAdjust="spacingAndGlyphs" fill="#1a1a1a" stroke="#1a1a1a">1.13</text>
<text x="109.73" y="217" font-size="6.0" textLength="26.87" lengthAdjust="spacingAndGlyphs" fill="#1a1a1a" stroke="#1a1a1a">[0.87; 1.47]</text>
<text x="233.67" y="217" font-size="6.0" textLength="14.63" lengthAdjust="spacingAndGlyphs" fill="#1a1a1a" stroke="#1a1a1a">13.5%</text>
<text x="19.90" y="224" font-size="6.0" textLength="40.81" lengthAdjust="spacingAndGlyphs" fill="#1a1a1a" stroke="#1a1a1a">Robinson (2018)</text>
<text x="90.68" y="224" font-size="6.0" textLength="10.22" lengthAdjust="spacingAndGlyphs" fill="#1a1a1a" stroke="#1a1a1a">1.04</text>
<text x="109.73" y="224" font-size="6.0" textLength="26.87" lengthAdjust="spacingAndGlyphs" fill="#1a1a1a" stroke="#1a1a1a">[0.85; 1.27]</text>
<text x="233.67" y="224" font-size="6.0" textLength="14.63" lengthAdjust="spacingAndGlyphs" fill="#1a1a1a" stroke="#1a1a1a">14.2%</text>
<text x="145.05" y="267" font-size="6.0" textLength="7.42" lengthAdjust="spacingAndGlyphs" fill="#1a1a1a" stroke="#1a1a1a">0.2</text>
<text x="164.20" y="267" font-size="6.0" textLength="7.42" lengthAdjust="spacingAndGlyphs" fill="#1a1a1a" stroke="#1a1a1a">0.5</text>
<text x="180.92" y="267" font-size="6.0" textLength="2.97" lengthAdjust="spacingAndGlyphs" fill="#1a1a1a" stroke="#1a1a1a">1</text>
<text x="195.40" y="267" font-size="6.0" textLength="2.97" lengthAdjust="spacingAndGlyphs" fill="#1a1a1a" stroke="#1a1a1a">2</text>
<text x="214.55" y="267" font-size="6.0" textLength="2.97" lengthAdjust="spacingAndGlyphs" fill="#1a1a1a" stroke="#1a1a1a">5</text>
<text x="19.90" y="254" font-size="6.0" textLength="92.60" lengthAdjust="spacingAndGlyphs" fill="#1a1a1a" stroke="#1a1a1a">Random effects model 1.03 [0.78; 1.38]</text>
<text x="19.90" y="262" font-size="6.0" textLength="108.30" lengthAdjust="spacingAndGlyphs" fill="#1a1a1a" stroke="#1a1a1a">Heterogeneity: I<tspan dy="-2.52" font-size="3.72">2</tspan><tspan dy="2.52"> = 61%, τ</tspan><tspan dy="-2.52" font-size="3.72">2</tspan><tspan dy="2.52"> = 0.1394, p = 0.01</tspan></text>
<text x="90.40" y="284" font-size="10.0" textLength="87.80" lengthAdjust="spacingAndGlyphs" fill="#1a1a1a" stroke="#1a1a1a" stroke-width="0.12">Disease-free survival</text>
<text x="277.00" y="187" font-size="6.0" textLength="35.90" lengthAdjust="spacingAndGlyphs" fill="#1a1a1a" stroke="#1a1a1a">Bashey (2016)</text>
<text x="347.58" y="187" font-size="6.0" textLength="10.22" lengthAdjust="spacingAndGlyphs" fill="#1a1a1a" stroke="#1a1a1a">1.51</text>
<text x="368.63" y="187" font-size="6.0" textLength="26.87" lengthAdjust="spacingAndGlyphs" fill="#1a1a1a" stroke="#1a1a1a">[1.02; 2.23]</text>
<text x="497.57" y="187" font-size="6.0" textLength="14.63" lengthAdjust="spacingAndGlyphs" fill="#1a1a1a" stroke="#1a1a1a">19.6%</text>
<text x="277.00" y="195" font-size="6.0" textLength="40.81" lengthAdjust="spacingAndGlyphs" fill="#1a1a1a" stroke="#1a1a1a">Robinson (2018)</text>
<text x="347.58" y="195" font-size="6.0" textLength="10.22" lengthAdjust="spacingAndGlyphs" fill="#1a1a1a" stroke="#1a1a1a">1.03</text>
<text x="368.63" y="195" font-size="6.0" textLength="26.87" lengthAdjust="spacingAndGlyphs" fill="#1a1a1a" stroke="#1a1a1a">[0.78; 1.36]</text>
<text x="497.57" y="195" font-size="6.0" textLength="14.63" lengthAdjust="spacingAndGlyphs" fill="#1a1a1a" stroke="#1a1a1a">22.7%</text>
<text x="277.00" y="202" font-size="6.0" textLength="40.81" lengthAdjust="spacingAndGlyphs" fill="#1a1a1a" stroke="#1a1a1a">Robinson (2018)</text>
<text x="347.58" y="202" font-size="6.0" textLength="10.22" lengthAdjust="spacingAndGlyphs" fill="#1a1a1a" stroke="#1a1a1a">0.65</text>
<text x="368.63" y="202" font-size="6.0" textLength="26.87" lengthAdjust="spacingAndGlyphs" fill="#1a1a1a" stroke="#1a1a1a">[0.44; 0.97]</text>
<text x="497.57" y="202" font-size="6.0" textLength="14.63" lengthAdjust="spacingAndGlyphs" fill="#1a1a1a" stroke="#1a1a1a">19.5%</text>
<text x="277.00" y="217" font-size="6.0" textLength="34.98" lengthAdjust="spacingAndGlyphs" fill="#1a1a1a" stroke="#1a1a1a">Ahmed (2019)</text>
<text x="347.58" y="217" font-size="6.0" textLength="10.22" lengthAdjust="spacingAndGlyphs" fill="#1a1a1a" stroke="#1a1a1a">1.73</text>
<text x="368.63" y="217" font-size="6.0" textLength="26.87" lengthAdjust="spacingAndGlyphs" fill="#1a1a1a" stroke="#1a1a1a">[1.16; 2.59]</text>
<text x="497.57" y="217" font-size="6.0" textLength="14.63" lengthAdjust="spacingAndGlyphs" fill="#1a1a1a" stroke="#1a1a1a">19.3%</text>
<text x="277.00" y="233" font-size="6.0" textLength="92.50" lengthAdjust="spacingAndGlyphs" fill="#1a1a1a" stroke="#1a1a1a">Random effects model 1.14 [0.82; 1.59]</text>
<text x="229.40" y="322" font-size="5.2" textLength="34.60" lengthAdjust="spacingAndGlyphs" fill="#333" stroke="#333">Heterogeneity</text>
<text x="344.15" y="322" font-size="5.2" textLength="43.90" lengthAdjust="spacingAndGlyphs" fill="#333" stroke="#333">Pooled HR (95%CI)</text>
<text x="422.55" y="330" font-size="5.2" textLength="22.10" lengthAdjust="spacingAndGlyphs" fill="#333" stroke="#333">Egger's P</text>
<text x="70.30" y="340" font-size="5.2" textLength="36.20" lengthAdjust="spacingAndGlyphs" fill="#333" stroke="#333">Overall survival</text>
<text x="172.10" y="340" font-size="5.2" textLength="37.60" lengthAdjust="spacingAndGlyphs" fill="#333" stroke="#333">1.18 (0.92- 1.50)</text>
<text x="241.45" y="340" font-size="5.2" textLength="10.50" lengthAdjust="spacingAndGlyphs" fill="#333" stroke="#333">78%</text>
<text x="285.30" y="340" font-size="5.2" textLength="33.80" lengthAdjust="spacingAndGlyphs" fill="#333" stroke="#333">Bashey (2016)</text>
<text x="347.35" y="340" font-size="5.2" textLength="37.50" lengthAdjust="spacingAndGlyphs" fill="#333" stroke="#333">1.05 (0.92- 1.20)</text>
<text x="423.60" y="340" font-size="5.2" textLength="20.00" lengthAdjust="spacingAndGlyphs" fill="#333" stroke="#333">Yes, 0.01</text>
<text x="301.60" y="356" font-size="3.6" textLength="1.20" lengthAdjust="spacingAndGlyphs" fill="#666" stroke="#666">-</text>
<text x="365.50" y="356" font-size="3.6" textLength="1.20" lengthAdjust="spacingAndGlyphs" fill="#666" stroke="#666">-</text></g>
</svg>
<svg width="520" height="377" viewBox="0 0 520 377" style="position:absolute;left:0;top:0">
<rect x="0" y="0" width="520" height="1" fill="#000"/>
<rect x="0" y="1" width="520" height="1" fill="#e0e0e0"/>
<rect x="0" y="0" width="1" height="377" fill="#4a4a4a"/>
<rect x="1" y="1" width="1" height="374" fill="#858585"/>
<rect x="518" y="1" width="1" height="374" fill="#8a8a8a"/>
<rect x="519" y="0" width="1" height="377" fill="#4a4a4a"/>
<rect x="1" y="375" width="518" height="1" fill="#909090"/>
<rect x="0" y="376" width="520" height="1" fill="#4a4a4a"/>
</svg>
</body></html>
